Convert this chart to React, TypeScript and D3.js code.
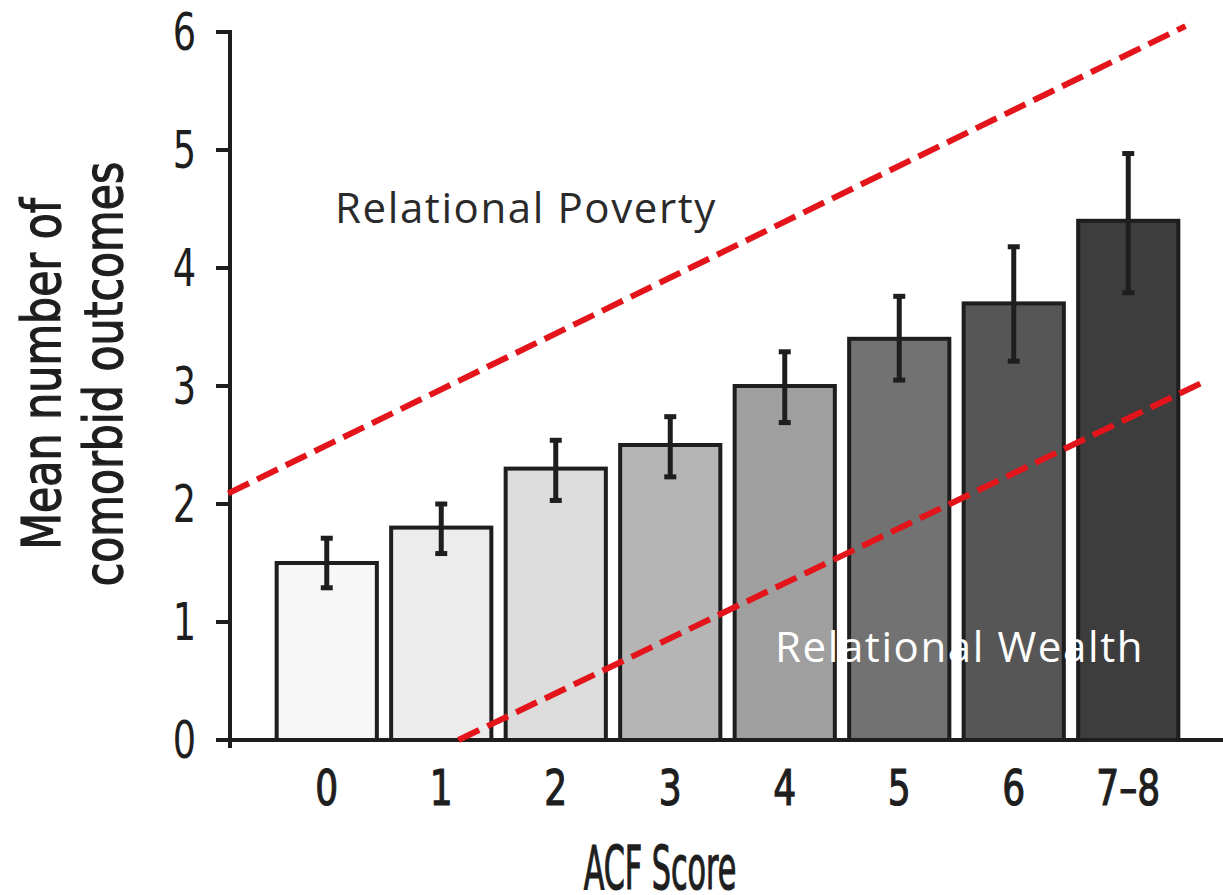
import React from 'react';
import * as d3 from 'd3';

// ACE score groups and mean comorbid outcomes (with error bar bounds)
const categories = ['0', '1', '2', '3', '4', '5', '6', '7–8'];
const means = [1.5, 1.8, 2.3, 2.5, 3.0, 3.4, 3.7, 4.4];
const errLow = [1.29, 1.58, 2.03, 2.23, 2.69, 3.05, 3.21, 3.79];
const errHigh = [1.71, 2.0, 2.54, 2.74, 3.29, 3.76, 4.18, 4.97];
const barFills = ['#f7f7f7', '#ececec', '#dcdcdc', '#b5b5b5', '#9f9f9f', '#727272', '#565656', '#3d3d3d'];
const yTicks = [0, 1, 2, 3, 4, 5, 6];

// dashed guide lines, in (bar index, value) space
const povertyLine: [number, number][] = [[-0.86, 2.09], [7.5, 6.05]];
const wealthLine: [number, number][] = [[1.15, 0], [7.65, 3.03]];

const W = 1223;
const H = 895;
const condensed = "'DejaVu Sans Condensed', 'DejaVu Sans', sans-serif";
const humanist = "'Open Sans', Lato, sans-serif";
const squeeze = 0.8;

export default function App() {
  const axisX = 230;
  const x = d3.scaleBand<string>()
    .domain(categories)
    .range([axisX, 1225])
    .paddingInner(0.09)
    .paddingOuter(0.39);
  const y = d3.scaleLinear().domain([0, 6]).range([740, 32]);
  const bw = x.bandwidth();
  const pos = d3.scaleLinear()
    .domain([0, categories.length - 1])
    .range([x(categories[0])! + bw / 2, x(categories[categories.length - 1])! + bw / 2]);

  const line = d3.line<[number, number]>()
    .x(d => pos(d[0]))
    .y(d => y(d[1]));

  const ink = '#1e1e1e';

  return (
    <div style={{ position: 'absolute', left: 0, top: 0 }}>
      <svg width={W} height={H} viewBox={`0 0 ${W} ${H}`} style={{ display: 'block', background: '#fff' }}>
        {/* bars */}
        <g>
          {categories.map((c, i) => (
            <rect
              key={c}
              x={x(c)! + 2}
              y={y(means[i])}
              width={bw - 4}
              height={y(0) - y(means[i])}
              fill={barFills[i]}
              stroke={ink}
              strokeWidth={4}
            />
          ))}
        </g>

        {/* error bars */}
        <g stroke={ink} strokeWidth={5}>
          {categories.map((c, i) => {
            const cx = x(c)! + bw / 2;
            return (
              <g key={c}>
                <line x1={cx} x2={cx} y1={y(errLow[i])} y2={y(errHigh[i])} />
                <line x1={cx - 6} x2={cx + 6} y1={y(errLow[i])} y2={y(errLow[i])} />
                <line x1={cx - 6} x2={cx + 6} y1={y(errHigh[i])} y2={y(errHigh[i])} />
              </g>
            );
          })}
        </g>

        {/* axes */}
        <g stroke={ink} strokeWidth={4}>
          <line x1={axisX} x2={axisX} y1={y(6) - 2} y2={y(0) + 8} />
          <line x1={axisX - 14} x2={W} y1={y(0)} y2={y(0)} />
          {yTicks.map(t => (
            <line key={t} x1={axisX - 14} x2={axisX} y1={y(t)} y2={y(t)} />
          ))}
        </g>

        {/* y tick labels */}
        <g fontFamily={condensed} fontSize={51} fill={ink} textAnchor="end">
          {yTicks.map(t => (
            <text key={t} transform={`translate(${axisX - 34},${y(t)}) scale(${squeeze},1)`} dy="0.36em">{t}</text>
          ))}
        </g>

        {/* x tick labels */}
        <g fontFamily={condensed} fontSize={50} fill={ink} stroke={ink} strokeWidth={1.2} textAnchor="middle">
          {categories.map(c => (
            <text key={c} transform={`translate(${x(c)! + bw / 2},805) scale(${squeeze},1)`}>{c}</text>
          ))}
        </g>

        {/* axis titles */}
        <g fontFamily={condensed} fill={ink} stroke={ink} strokeWidth={1.2} textAnchor="middle">
          <text fontSize={60} transform={`translate(660,889) scale(0.56,1)`}>ACF Score</text>
          <text fontSize={54} transform={`translate(60,374) rotate(-90) scale(0.88,1)`}>Mean number of</text>
          <text fontSize={54} transform={`translate(122,374) rotate(-90) scale(0.88,1)`}>comorbid outcomes</text>
        </g>

        {/* dashed guide lines */}
        <g fill="none" stroke="#e3151b" strokeWidth={6} strokeDasharray="23 9">
          <path d={line(povertyLine)!} />
          <path d={line(wealthLine)!} />
        </g>

        {/* annotations */}
        <text x={335} y={223} fontFamily={humanist} fontSize={42} letterSpacing={1.6} fill="#2a2a2a">Relational Poverty</text>
        <text x={775} y={662} fontFamily={humanist} fontSize={42} letterSpacing={1.6} fill="#ffffff">Relational Wealth</text>
      </svg>
    </div>
  );
}
